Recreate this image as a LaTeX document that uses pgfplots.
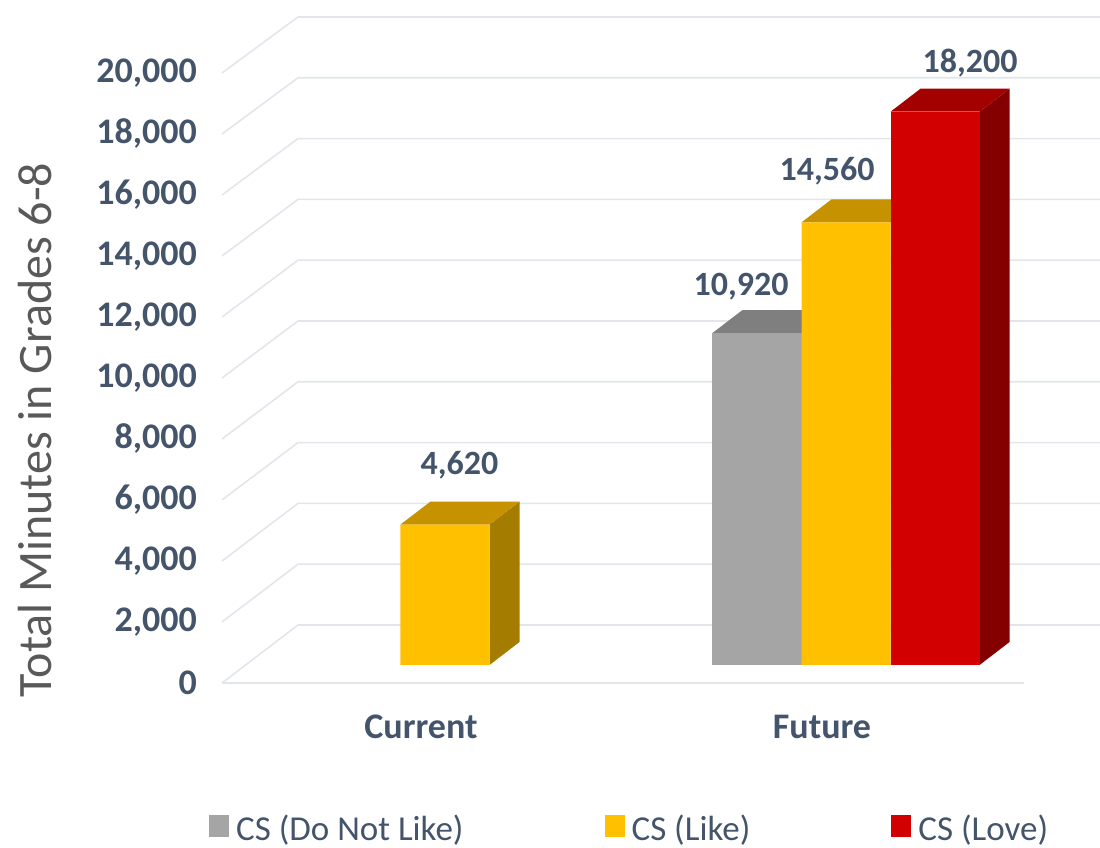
\documentclass[border=0pt]{standalone}
\usepackage{pgfplots}
\pgfplotsset{compat=1.18}
\usepackage{pgfplotstable}
\usepackage{fontspec}
\setmainfont{Carlito}
\definecolor{cGrayF}{HTML}{A5A5A5}
\definecolor{cGrayT}{HTML}{7F7F7F}
\definecolor{cGrayS}{HTML}{7A7A7A}
\definecolor{cYelF}{HTML}{FFC000}
\definecolor{cYelT}{HTML}{C69200}
\definecolor{cYelS}{HTML}{A37C00}
\definecolor{cRedF}{HTML}{D20000}
\definecolor{cRedT}{HTML}{A30000}
\definecolor{cRedS}{HTML}{840000}
\definecolor{cTxt}{HTML}{44546A}
\definecolor{cLab}{HTML}{595959}
\definecolor{cGrid}{HTML}{E2E6EB}

\pgfplotstableread{
x y dx dy lab
0.778 10920 -16 38 {10,920}
}\grayTab
\pgfplotstableread{
x y dx dy lab
0 4620 14.5 50 {4,620}
1 14560 -19 42 {14,560}
}\yelTab
\pgfplotstableread{
x y dx dy lab
1.222 18200 35 39 {18,200}
}\redTab

\begin{document}
\begin{tikzpicture}
\path[use as bounding box] (0,0) rectangle (1100pt,847pt);
\begin{axis}[
  at={(0,0)}, anchor=south west,
  width=1100pt, height=847pt, scale only axis,
  xmin=-1.10973, xmax=1.63342,
  ymin=-5987, ymax=21875,
  clip=false, no markers,
  axis line style={draw=none},
  tick style={draw=none},
  ytick={-592,1415,3421,5428,7434,9441,11447,13454,15461,17467,19474},
  yticklabels={0,{2,000},{4,000},{6,000},{8,000},{10,000},{12,000},{14,000},{16,000},{18,000},{20,000}},
  yticklabel style={anchor=east, inner sep=0pt, xshift=197pt, text=cTxt,
    font=\fontsize{36}{40}\selectfont\bfseries},
  xtick={-0.0599,0.9401},
  xticklabels={Current,Future},
  xticklabel style={anchor=base, inner sep=0pt, yshift=109pt, text=cTxt,
    font=\fontsize{36}{40}\selectfont\bfseries},
  ylabel={Total Minutes in Grades 6-8},
  every axis y label/.style={at={(axis description cs:0.0315,0.4923)}, rotate=90, anchor=center,
    text=cLab, font=\fontsize{48}{52}\selectfont},
  legend columns=3,
  legend style={at={(0.19,0.0224)}, anchor=west, draw=none, fill=none, inner sep=0pt,
    font=\fontsize{35}{38}\selectfont, text=cTxt,
    /tikz/every odd column/.append style={column sep=5pt},
    /tikz/every even column/.append style={column sep=139pt}},
  legend image code/.code={\fill[#1] (0pt,-9pt) rectangle (20pt,13pt);},
  gridl/.style={draw=cGrid, line width=1.6pt, forget plot},
  barp/.style={ybar, bar width=0.222, bar shift=0pt, draw=none,
    nodes near coords, point meta=explicit symbolic,
    visualization depends on={\thisrow{dx}\as\ldx},
    visualization depends on={\thisrow{dy}\as\ldy},
    every node near coord/.append style={anchor=base, xshift=\ldx pt, yshift=\ldy pt,
      text=cTxt, font=\fontsize{34}{38}\selectfont\bfseries}},
]
% grid: side wall + back wall
\addplot[gridl] coordinates {(-0.5561,-592) (1.4439,-592)};
\addplot[gridl] coordinates {(-0.5561,-592) (-0.3666,1316) (1.6334,1316)};
\addplot[gridl] coordinates {(-0.5561,1415) (-0.3666,3316) (1.6334,3316)};
\addplot[gridl] coordinates {(-0.5561,3421) (-0.3666,5316) (1.6334,5316)};
\addplot[gridl] coordinates {(-0.5561,5428) (-0.3666,7316) (1.6334,7316)};
\addplot[gridl] coordinates {(-0.5561,7434) (-0.3666,9316) (1.6334,9316)};
\addplot[gridl] coordinates {(-0.5561,9441) (-0.3666,11316) (1.6334,11316)};
\addplot[gridl] coordinates {(-0.5561,11447) (-0.3666,13316) (1.6334,13316)};
\addplot[gridl] coordinates {(-0.5561,13454) (-0.3666,15316) (1.6334,15316)};
\addplot[gridl] coordinates {(-0.5561,15461) (-0.3666,17316) (1.6334,17316)};
\addplot[gridl] coordinates {(-0.5561,17467) (-0.3666,19316) (1.6334,19316)};
\addplot[gridl] coordinates {(-0.5561,19474) (-0.3666,21316) (1.6334,21316)};

% gray bar (Future)
\addplot[fill=cGrayS, draw=none, forget plot] coordinates {(0.889,0) (0.9638,757) (0.9638,11677) (0.889,10920)} -- cycle;
\addplot[fill=cGrayT, draw=none, forget plot] coordinates {(0.667,10920) (0.889,10920) (0.9638,11677) (0.7418,11677)} -- cycle;
\addplot[barp, fill=cGrayF] table[x=x, y=y, meta=lab] {\grayTab};
\addlegendentry{CS (Do Not Like)}

% yellow bars (Current, Future)
\addplot[fill=cYelS, draw=none, forget plot] coordinates {(0.111,0) (0.1858,757) (0.1858,5377) (0.111,4620)} -- cycle;
\addplot[fill=cYelT, draw=none, forget plot] coordinates {(-0.111,4620) (0.111,4620) (0.1858,5377) (-0.0362,5377)} -- cycle;
\addplot[fill=cYelS, draw=none, forget plot] coordinates {(1.111,0) (1.1858,757) (1.1858,15317) (1.111,14560)} -- cycle;
\addplot[fill=cYelT, draw=none, forget plot] coordinates {(0.889,14560) (1.111,14560) (1.1858,15317) (0.9638,15317)} -- cycle;
\addplot[barp, fill=cYelF] table[x=x, y=y, meta=lab] {\yelTab};
\addlegendentry{CS (Like)}

% red bar (Future)
\addplot[fill=cRedS, draw=none, forget plot] coordinates {(1.333,0) (1.4078,757) (1.4078,18957) (1.333,18200)} -- cycle;
\addplot[fill=cRedT, draw=none, forget plot] coordinates {(1.111,18200) (1.333,18200) (1.4078,18957) (1.1858,18957)} -- cycle;
\addplot[barp, fill=cRedF] table[x=x, y=y, meta=lab] {\redTab};
\addlegendentry{CS (Love)}
\end{axis}
\end{tikzpicture}
\end{document}
